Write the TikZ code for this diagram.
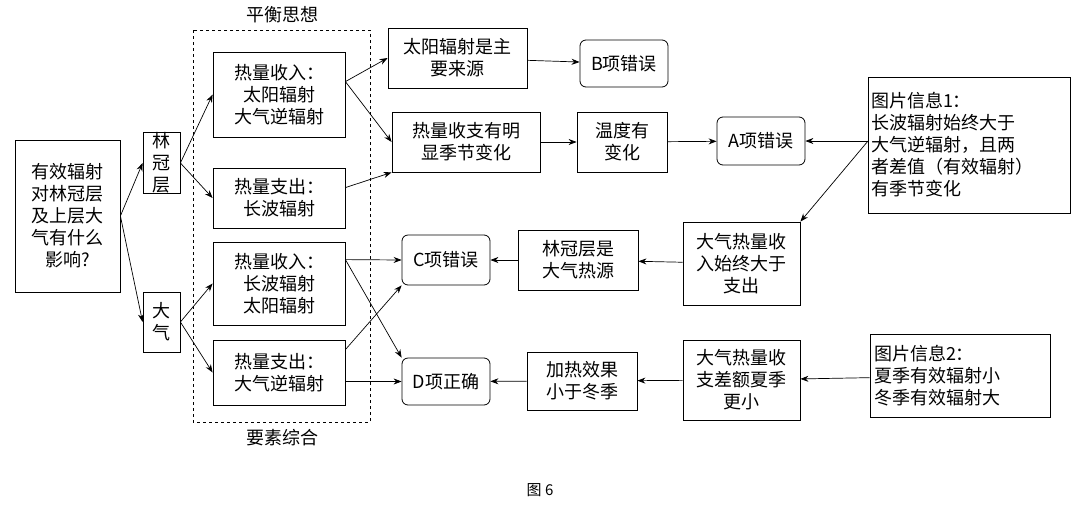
\documentclass[tikz,border=0pt]{standalone}
\usepackage{fontspec}
\setmainfont{Noto Sans CJK SC}
\usetikzlibrary{arrows.meta}
\begin{document}
\begin{tikzpicture}[x=1pt,y=-1pt,
 bx/.style={draw,line width=0.8pt,inner sep=0pt,align=center,font=\fontsize{18}{22}\selectfont},
 rb/.style={bx,rounded corners=6pt},
 ar/.style={-{Stealth[length=8pt,width=6pt]},line width=0.7pt},
 ln/.style={line width=0.7pt}]
\useasboundingbox (0,0) rectangle (1080,507);
\newcommand{\bxat}[4]{\node[bx,minimum width=#3-#1,minimum height=#4-#2] at ({(#1+#3)/2},{(#2+#4)/2})}
\newcommand{\rbat}[4]{\node[rb,minimum width=#3-#1,minimum height=#4-#2] at ({(#1+#3)/2},{(#2+#4)/2})}
\bxat{15}{140}{120}{292} (q) {有效辐射\\对林冠层\\及上层大\\气有什么\\影响?};
\bxat{143}{133}{180}{193} (lg) {林\\冠\\层};
\bxat{143}{292}{180}{352} (dq) {大\\气};
\draw[dashed,line width=0.7pt] (193,30) rectangle (370,422);
\node[font=\fontsize{18}{22}\selectfont] (t1) at (282,15) {平衡思想};
\node[font=\fontsize{18}{22}\selectfont] (t2) at (282,438) {要素综合};
\bxat{213}{52}{345}{137} (r1) {热量收入：\\太阳辐射\\大气逆辐射};
\bxat{213}{168}{345}{228} (e1) {热量支出：\\长波辐射};
\bxat{213}{242}{345}{325} (r2) {热量收入：\\长波辐射\\太阳辐射};
\bxat{213}{340}{345}{405} (e2) {热量支出：\\大气逆辐射};
\bxat{388}{28}{527}{88} (s) {太阳辐射是主\\要来源};
\rbat{580}{40}{668}{87} (B) {B项错误};
\bxat{392}{112}{540}{172} (h) {热量收支有明\\显季节变化};
\bxat{577}{112}{667}{172} (w) {温度有\\变化};
\rbat{717}{117}{805}{165} (A) {A项错误};
\node[bx,align=left,minimum width=202,minimum height=136,text width=196] (i1) at (969,145) {图片信息1：\\长波辐射始终大于\\大气逆辐射，且两\\者差值（有效辐射）\\有季节变化};
\bxat{683}{222}{800}{305} (d1) {大气热量收\\入始终大于\\支出};
\bxat{518}{230}{638}{290} (l) {林冠层是\\大气热源};
\rbat{402}{235}{490}{285} (C) {C项错误};
\node[bx,align=left,minimum width=180,minimum height=83,text width=172] (i2) at (960,376) {图片信息2：\\夏季有效辐射小\\冬季有效辐射大};
\bxat{683}{340}{800}{420} (d2) {大气热量收\\支差额夏季\\更小};
\bxat{527}{352}{637}{410} (k) {加热效果\\小于冬季};
\rbat{402}{358}{490}{405} (D) {D项正确};
\node[font=\fontsize{15}{18}\selectfont] (cap) at (540,490) {图 6};
\draw[ar] (q.east) -- (lg.west);
\draw[ar] (q.east) -- (dq.west);
\draw[ar] (lg.east) -- (r1.west);
\draw[ar] (lg.east) -- (e1.west);
\draw[ar] (dq.east) -- (r2.west);
\draw[ar] (dq.east) -- (e2.west);
\draw[ar] (r1.north east) ++(0,30) coordinate (p1) (p1) -- (s.west);
\draw[ar] (p1) -- (h.west);
\draw[ar] (e1.north east) ++(0,20) coordinate (p2) (p2) -- (h.south west);
\draw[ar] (s) -- (B);
\draw[ar] (h) -- (w);
\draw[ar] (w) -- (A);
\coordinate (j1) at (868,141);
\draw[ar] (j1) -- (A.east);
\draw[ar] (j1) -- (d1.north east);
\draw[ar] (d1) -- (l);
\draw[ar] (l) -- (C);
\draw[ar] (r2.north east) ++(0,18) coordinate (p3) (p3) -- (C.west);
\draw[ar] (p3) -- (D.north west);
\draw[ar] (e2.north east) ++(0,10) coordinate (p4) (p4) -- (C.south west);
\draw[ar] (e2.east |- D) coordinate (p5) (p5) -- (D.west);
\draw[ar] (i2) -- (d2);
\draw[ar] (d2) -- (k);
\draw[ar] (k) -- (D);
\end{tikzpicture}
\end{document}
